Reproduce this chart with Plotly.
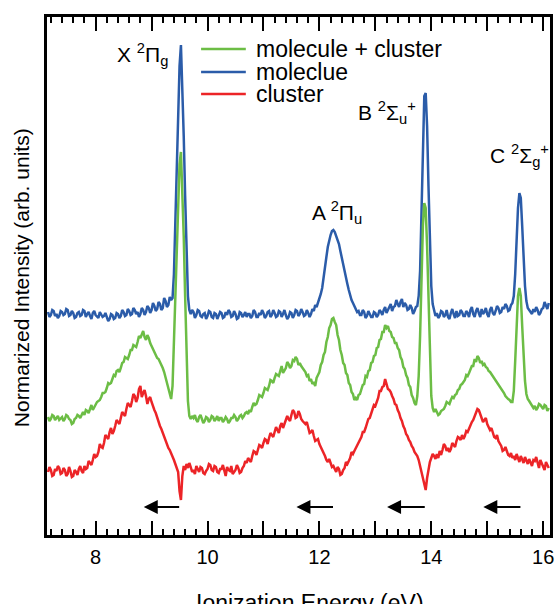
import plotly.graph_objects as go

# ---------------- data ----------------
# ionization energy grid (eV)
energy = [
    7.150, 7.175, 7.200, 7.225, 7.250, 7.275, 7.300, 7.325, 7.350, 7.375,
    7.400, 7.425, 7.450, 7.475, 7.500, 7.525, 7.550, 7.575, 7.600, 7.625,
    7.650, 7.675, 7.700, 7.725, 7.750, 7.775, 7.800, 7.825, 7.850, 7.875,
    7.900, 7.925, 7.950, 7.975, 8.000, 8.025, 8.050, 8.075, 8.100, 8.125,
    8.150, 8.175, 8.200, 8.225, 8.250, 8.275, 8.300, 8.325, 8.350, 8.375,
    8.400, 8.425, 8.450, 8.475, 8.500, 8.525, 8.550, 8.575, 8.600, 8.625,
    8.650, 8.675, 8.700, 8.725, 8.750, 8.775, 8.800, 8.825, 8.850, 8.875,
    8.900, 8.925, 8.950, 8.975, 9.000, 9.025, 9.050, 9.075, 9.100, 9.125,
    9.150, 9.175, 9.200, 9.225, 9.250, 9.275, 9.300, 9.325, 9.350, 9.375,
    9.400, 9.425, 9.450, 9.475, 9.500, 9.525, 9.550, 9.575, 9.600, 9.625,
    9.650, 9.675, 9.700, 9.725, 9.750, 9.775, 9.800, 9.825, 9.850, 9.875,
    9.900, 9.925, 9.950, 9.975, 10.000, 10.025, 10.050, 10.075, 10.100, 10.125,
    10.150, 10.175, 10.200, 10.225, 10.250, 10.275, 10.300, 10.325, 10.350, 10.375,
    10.400, 10.425, 10.450, 10.475, 10.500, 10.525, 10.550, 10.575, 10.600, 10.625,
    10.650, 10.675, 10.700, 10.725, 10.750, 10.775, 10.800, 10.825, 10.850, 10.875,
    10.900, 10.925, 10.950, 10.975, 11.000, 11.025, 11.050, 11.075, 11.100, 11.125,
    11.150, 11.175, 11.200, 11.225, 11.250, 11.275, 11.300, 11.325, 11.350, 11.375,
    11.400, 11.425, 11.450, 11.475, 11.500, 11.525, 11.550, 11.575, 11.600, 11.625,
    11.650, 11.675, 11.700, 11.725, 11.750, 11.775, 11.800, 11.825, 11.850, 11.875,
    11.900, 11.925, 11.950, 11.975, 12.000, 12.025, 12.050, 12.075, 12.100, 12.125,
    12.150, 12.175, 12.200, 12.225, 12.250, 12.275, 12.300, 12.325, 12.350, 12.375,
    12.400, 12.425, 12.450, 12.475, 12.500, 12.525, 12.550, 12.575, 12.600, 12.625,
    12.650, 12.675, 12.700, 12.725, 12.750, 12.775, 12.800, 12.825, 12.850, 12.875,
    12.900, 12.925, 12.950, 12.975, 13.000, 13.025, 13.050, 13.075, 13.100, 13.125,
    13.150, 13.175, 13.200, 13.225, 13.250, 13.275, 13.300, 13.325, 13.350, 13.375,
    13.400, 13.425, 13.450, 13.475, 13.500, 13.525, 13.550, 13.575, 13.600, 13.625,
    13.650, 13.675, 13.700, 13.725, 13.750, 13.775, 13.800, 13.825, 13.850, 13.875,
    13.900, 13.925, 13.950, 13.975, 14.000, 14.025, 14.050, 14.075, 14.100, 14.125,
    14.150, 14.175, 14.200, 14.225, 14.250, 14.275, 14.300, 14.325, 14.350, 14.375,
    14.400, 14.425, 14.450, 14.475, 14.500, 14.525, 14.550, 14.575, 14.600, 14.625,
    14.650, 14.675, 14.700, 14.725, 14.750, 14.775, 14.800, 14.825, 14.850, 14.875,
    14.900, 14.925, 14.950, 14.975, 15.000, 15.025, 15.050, 15.075, 15.100, 15.125,
    15.150, 15.175, 15.200, 15.225, 15.250, 15.275, 15.300, 15.325, 15.350, 15.375,
    15.400, 15.425, 15.450, 15.475, 15.500, 15.525, 15.550, 15.575, 15.600, 15.625,
    15.650, 15.675, 15.700, 15.725, 15.750, 15.775, 15.800, 15.825, 15.850, 15.875,
    15.900, 15.925, 15.950, 15.975, 16.000, 16.025, 16.050, 16.075, 16.100,
]

# "moleclue" (blue) intensity, arb. units
molecule = [
    # 7.150 - 9.350
    224, 219, 221, 226, 225, 220, 222, 218, 220, 225,
    224, 221, 222, 227, 226, 220, 221, 225, 223, 218,
    219, 223, 224, 220, 221, 226, 225, 219, 222, 224,
    220, 217, 223, 225, 221, 219, 218, 224, 222, 219,
    220, 223, 219, 215, 217, 222, 221, 217, 218, 223,
    222, 218, 220, 226, 224, 220, 221, 227, 225, 221,
    222, 228, 226, 222, 224, 219, 222, 228, 226, 221,
    224, 230, 228, 223, 226, 233, 230, 225, 227, 234,
    232, 226, 228, 238, 235, 229, 231, 239, 236,
    # 9.375 - 9.725  (X state)
    238, 262, 310, 375, 430, 470, 491, 455, 400, 340, 280, 240, 226, 222, 226,
    # 9.750 - 13.750
    224, 218, 221, 226, 225, 220, 219, 222, 223, 217, 220, 225, 224, 219, 218, 223, 222, 217, 220, 224,
    223, 218, 219, 224, 221, 226, 224, 219, 220, 225, 222, 217, 218, 224, 223, 219, 221, 224, 219, 222,
    222, 218, 220, 226, 224, 219, 219, 223, 221, 226, 223, 218, 220, 224, 225, 219, 221, 226, 223, 219,
    220, 225, 224, 219, 222, 226, 221, 217, 219, 224, 223, 218, 221, 226, 225, 220, 222, 227, 224, 220,
    221, 226, 223, 219, 222, 227, 225, 231, 229, 233, 238, 242, 248, 257, 268, 279, 289, 296, 301, 305,
    306, 304, 300, 297, 292, 285, 278, 270, 264, 258, 252, 246, 240, 236, 233, 230, 228, 224, 225, 221,
    221, 226, 224, 218, 220, 225, 222, 219, 219, 224, 223, 219, 221, 226, 224, 221, 226, 229, 223, 226,
    228, 232, 225, 229, 230, 236, 232, 229, 234, 237, 229, 233, 231, 226, 227, 231, 228, 222, 225, 229,
    230,
    # 13.775 - 14.075  (B state)
    240, 265, 320, 390, 440, 443, 410, 350, 290, 250, 232, 226, 220,
    # 14.100 - 15.450
    223, 218, 220, 225, 224, 219, 221, 226, 219, 217, 223, 227, 222, 218, 225, 220, 221, 226, 224, 220,
    220, 225, 223, 219, 226, 229, 222, 219, 225, 228, 223, 219, 227, 222, 224, 228, 222, 219, 226, 229,
    223, 221, 225, 230, 228, 223, 224, 229, 227, 232, 230, 225, 226, 231, 233,
    # 15.475 - 15.825  (C state)
    240, 262, 295, 328, 343, 338, 310, 278, 250, 235, 228, 226, 224, 222, 227,
    # 15.850 - 16.100
    224, 229, 226, 221, 223, 227, 228, 234, 231, 227, 233,
]

# "molecule + cluster" (green) intensity, arb. units
mol_cluster = [
    # 7.150 - 9.350
    119, 115, 117, 121, 120, 116, 118, 120, 116, 118,
    119, 115, 117, 121, 120, 117, 116, 112, 113, 117,
    118, 121, 120, 118, 122, 124, 121, 126, 125, 123,
    127, 131, 126, 129, 131, 134, 135, 136, 139, 143,
    143, 144, 148, 153, 152, 153, 157, 161, 160, 165,
    166, 164, 168, 173, 174, 179, 178, 177, 181, 186,
    186, 191, 190, 189, 194, 200, 198, 202, 205, 199,
    196, 201, 198, 193, 190, 188, 185, 181, 178, 177,
    174, 172, 168, 164, 158, 153, 148, 142, 137,
    # 9.375 - 9.725
    150, 195, 250, 300, 345, 372, 384, 350, 300, 240, 180, 135, 120, 117, 120,
    # 9.750 - 13.750
    118, 121, 116, 114, 119, 121, 117, 113, 115, 119, 118, 114, 116, 120, 119, 115, 117, 120, 115, 118,
    118, 114, 116, 119, 117, 113, 115, 118, 118, 121, 119, 115, 117, 120, 121, 118, 120, 123, 124, 122,
    126, 124, 129, 133, 131, 132, 136, 141, 140, 139, 143, 148, 147, 146, 150, 156, 155, 153, 158, 162,
    161, 160, 165, 170, 163, 166, 168, 174, 172, 168, 170, 176, 175, 179, 177, 171, 173, 170, 168, 166,
    164, 160, 161, 155, 157, 152, 154, 150, 158, 161, 164, 171, 174, 181, 184, 194, 199, 208, 211, 217,
    218, 214, 211, 201, 196, 186, 181, 173, 171, 163, 161, 153, 151, 144, 142, 136, 138, 136, 141, 142,
    146, 151, 152, 160, 159, 165, 166, 173, 174, 180, 181, 188, 189, 196, 197, 204, 204, 211, 208, 210,
    205, 204, 199, 198, 193, 193, 188, 186, 179, 176, 169, 167, 161, 158, 151, 149, 141, 138, 133, 131,
    140,
    # 13.775 - 14.075
    160, 200, 255, 310, 333, 328, 290, 230, 175, 140, 128, 124, 127,
    # 14.100 - 15.450
    124, 121, 122, 125, 126, 127, 130, 134, 133, 132, 136, 139, 138, 141, 142, 146, 147, 151, 152, 154,
    156, 161, 160, 163, 166, 170, 170, 177, 174, 180, 178, 173, 175, 171, 172, 169, 168, 165, 164, 162,
    160, 158, 156, 153, 152, 149, 147, 145, 143, 140, 138, 137, 136, 134, 134,
    # 15.475 - 15.825
    145, 175, 215, 240, 248, 240, 210, 178, 155, 142, 137, 135, 133, 131, 128,
    # 15.850 - 16.100
    130, 126, 128, 132, 131, 129, 127, 131, 130, 125, 128,
]

# "cluster" (red) intensity, arb. units
cluster = [
    # 7.150 - 9.350
    64, 69, 66, 60, 61, 67, 65, 70, 68, 62,
    63, 68, 66, 60, 62, 69, 65, 59, 60, 66,
    64, 61, 67, 70, 65, 63, 70, 67, 68, 75,
    73, 71, 76, 82, 79, 80, 84, 92, 89, 88,
    93, 101, 99, 97, 104, 108, 102, 105, 110, 116,
    114, 112, 118, 124, 122, 120, 127, 133, 131, 129,
    135, 142, 140, 134, 138, 147, 150, 139, 143, 146,
    140, 132, 137, 139, 134, 129, 126, 123, 118, 114,
    110, 107, 103, 99, 95, 90, 88, 86, 83,
    # 9.375 - 9.725
    80, 76, 72, 68, 64, 45, 36, 60, 70, 66, 72, 68, 73, 69, 64,
    # 9.750 - 13.750
    66, 62, 70, 67, 64, 69, 68, 63, 62, 65, 67, 72, 71, 66, 65, 70, 69, 64, 63, 67,
    67, 71, 64, 60, 69, 66, 65, 70, 62, 64, 66, 71, 68, 63, 64, 68, 70, 75, 73, 78,
    76, 74, 80, 85, 84, 81, 86, 91, 90, 88, 93, 97, 96, 92, 98, 103, 101, 99, 104, 109,
    106, 103, 110, 113, 108, 112, 114, 120, 117, 115, 121, 126, 124, 118, 119, 125, 122, 117, 115, 113,
    112, 114, 108, 103, 104, 106, 100, 95, 96, 97, 92, 89, 86, 84, 80, 76, 74, 77, 72, 69,
    70, 66, 64, 69, 67, 61, 62, 66, 68, 74, 72, 75, 78, 84, 82, 85, 88, 91, 94, 97,
    99, 104, 104, 108, 112, 117, 118, 122, 125, 131, 130, 134, 138, 145, 145, 149, 150, 157, 153, 147,
    146, 144, 140, 137, 132, 131, 126, 123, 118, 115, 110, 107, 102, 100, 96, 94, 90, 88, 84, 82,
    80,
    # 13.775 - 14.075
    76, 70, 66, 60, 52, 46, 58, 68, 74, 78, 82, 80, 77,
    # 14.100 - 15.450
    82, 78, 85, 81, 86, 92, 90, 85, 88, 84, 87, 93, 91, 89, 95, 99, 98, 96, 101, 97,
    100, 105, 104, 108, 110, 114, 116, 120, 122, 127, 126, 122, 120, 114, 116, 118, 112, 108, 106, 108,
    102, 99, 98, 101, 95, 92, 90, 85, 86, 89, 84, 81, 80, 83, 78,
    # 15.475 - 15.825
    80, 76, 82, 78, 74, 80, 77, 73, 79, 75, 72, 77, 74, 70, 76,
    # 15.850 - 16.100
    75, 79, 72, 68, 76, 73, 70, 66, 74, 71, 68,
]

assert len(energy) == len(molecule) == len(mol_cluster) == len(cluster)

series_names = ["molecule + cluster", "moleclue", "cluster"]
series_colors = ["#6cbd45", "#2b5ca9", "#ec2427"]

state_labels = ["X <sup>2</sup>Π<sub>g</sub>", "A <sup>2</sup>Π<sub>u</sub>",
                "B <sup>2</sup>Σ<sub>u</sub><sup>+</sup>", "C <sup>2</sup>Σ<sub>g</sub><sup>+</sup>"]
state_label_x = [8.34, 11.84, 12.66, 15.02]
state_label_y = [482, 324, 424, 381]

# arrows: (head energy, tail energy), drawn at arrow_level
arrow_heads = [8.86, 11.59, 13.21, 14.93]
arrow_tails = [9.52, 12.27, 13.91, 15.62]
arrow_level = 29

tick_values = [8, 9, 10, 11, 12, 13, 14, 15, 16]
tick_text = ["8", "", "10", "", "12", "", "14", "", "16"]

# ---------------- figure ----------------
W, H = 560, 604
L, R, T, B = 46, 6, 16, 68
fig = go.Figure()

series_values = {"moleclue": molecule, "molecule + cluster": mol_cluster, "cluster": cluster}
color_of = dict(zip(series_names, series_colors))
for name in ["moleclue", "molecule + cluster", "cluster"]:
    fig.add_trace(go.Scatter(x=energy, y=series_values[name], mode="lines", name=name,
                             line=dict(color=color_of[name], width=2.5), showlegend=False))

FONT = "Liberation Sans, Arial, sans-serif"
ann = []
for txt, xx, yy in zip(state_labels, state_label_x, state_label_y):
    ann.append(dict(x=xx, y=yy, xref="x", yref="y", text=txt, showarrow=False,
                    xanchor="left", yanchor="middle", font=dict(size=21, family=FONT, color="black")))

for h, t in zip(arrow_heads, arrow_tails):
    ann.append(dict(x=h, y=arrow_level, ax=t, ay=arrow_level, xref="x", yref="y",
                    axref="x", ayref="y", text="", showarrow=True, arrowhead=2,
                    arrowsize=1.4, arrowwidth=2, arrowcolor="black"))


def px2paper_x(px):
    return (px - L) / (W - L - R)


def px2paper_y(py):
    return (H - B - py) / (H - T - B)


# manual legend (line samples + labels)
legend_rows = [49, 72, 94]
shapes = [dict(type="rect", xref="paper", yref="paper", x0=0, x1=1, y0=0, y1=1,
               line=dict(color="black", width=2), layer="above")]
for name, row in zip(series_names, legend_rows):
    shapes.append(dict(type="line", xref="paper", yref="paper",
                       x0=px2paper_x(202), x1=px2paper_x(247),
                       y0=px2paper_y(row), y1=px2paper_y(row),
                       line=dict(color=color_of[name], width=2.5)))
    ann.append(dict(x=px2paper_x(255), y=px2paper_y(row), xref="paper", yref="paper",
                    text=name, showarrow=False, xanchor="left", yanchor="middle",
                    font=dict(size=23, family=FONT, color="black")))

ann.append(dict(x=px2paper_x(21), y=px2paper_y(278), xref="paper", yref="paper",
                text="Normarized Intensity (arb. units)", textangle=-90, showarrow=False,
                xanchor="center", yanchor="middle", font=dict(size=21, family=FONT, color="black")))
ann.append(dict(x=px2paper_x(312), y=px2paper_y(588), xref="paper", yref="paper",
                text="Ionization Energy (eV)", showarrow=False,
                xanchor="center", yanchor="top", font=dict(size=23, family=FONT, color="black")))

fig.update_layout(
    width=W, height=H, margin=dict(l=L, r=R, t=T, b=B),
    paper_bgcolor="white", plot_bgcolor="white",
    annotations=ann, shapes=shapes, showlegend=False,
    xaxis=dict(range=[7.113, 16.14], showgrid=False, zeroline=False,
               showline=True, linecolor="black", linewidth=2, mirror="allticks",
               ticks="inside", ticklen=15, tickwidth=1.5, tickcolor="black",
               tickmode="array", tickvals=tick_values, ticktext=tick_text,
               tickfont=dict(size=20, family=FONT, color="black"),
               ticklabelstandoff=2,
               minor=dict(tickmode="linear", tick0=8, dtick=0.2, ticks="inside",
                          ticklen=7, tickwidth=1.5, tickcolor="black")),
    yaxis=dict(range=[0, 520], showgrid=False, zeroline=False,
               showline=True, linecolor="black", linewidth=2, mirror="allticks",
               ticks="inside", ticklen=6, tickwidth=1.5, tickcolor="black",
               tickmode="array", tickvals=[0, 520], showticklabels=False),
)

fig.write_html("out.html", config={"displayModeBar": False},
               post_script="document.body.style.margin='0px';")
